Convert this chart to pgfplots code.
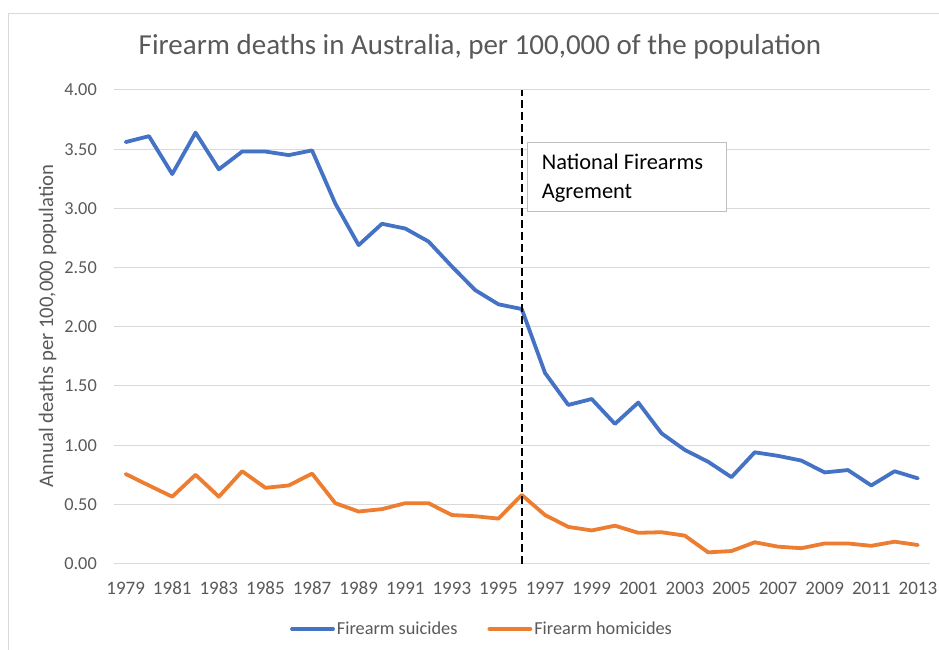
\documentclass[border=0pt]{standalone}
\usepackage{pgfplots}
\pgfplotsset{compat=1.18}
\usepackage{fontspec}
\setmainfont{Carlito}
\definecolor{txt}{RGB}{89,89,89}
\definecolor{grd}{RGB}{217,217,217}
\definecolor{boxc}{RGB}{191,191,191}
\definecolor{sblue}{RGB}{68,114,196}
\definecolor{sorange}{RGB}{237,125,49}
\pgfplotstableread{
year suicides homicides
1979 3.56 0.757
1980 3.61 0.66
1981 3.29 0.565
1982 3.64 0.75
1983 3.33 0.565
1984 3.48 0.78
1985 3.48 0.64
1986 3.45 0.66
1987 3.49 0.76
1988 3.04 0.51
1989 2.69 0.44
1990 2.87 0.46
1991 2.83 0.51
1992 2.72 0.51
1993 2.51 0.41
1994 2.31 0.40
1995 2.19 0.38
1996 2.15 0.58
1997 1.61 0.41
1998 1.34 0.31
1999 1.39 0.28
2000 1.18 0.32
2001 1.36 0.26
2002 1.10 0.265
2003 0.96 0.236
2004 0.86 0.095
2005 0.73 0.106
2006 0.94 0.18
2007 0.91 0.143
2008 0.87 0.13
2009 0.77 0.17
2010 0.79 0.17
2011 0.66 0.15
2012 0.78 0.185
2013 0.72 0.157
}\datatable
\begin{document}
\begin{tikzpicture}[x=1pt,y=1pt]
\useasboundingbox (0,0) rectangle (939,650);
\draw[grd, line width=1pt] (8.5,-20) -- (8.5,636.7) -- (960,636.7);
\begin{axis}[
  at={(114pt,86.4pt)}, anchor=south west,
  scale only axis, width=815.5pt, height=473.6pt,
  xmin=1978.5, xmax=2013.5, ymin=0, ymax=4,
  axis line style={draw=none},
  major tick length=0pt,
  xtick={1979,1981,...,2013},
  ytick={0,0.5,1,1.5,2,2.5,3,3.5,4},
  ymajorgrids, grid style={grd, line width=1pt},
  /pgf/number format/assume math mode=true,
  xticklabel style={/pgf/number format/set thousands separator={}, inner sep=0pt, text=txt, font=\fontsize{19}{23}\selectfont},
  yticklabel style={/pgf/number format/fixed, /pgf/number format/fixed zerofill, /pgf/number format/precision=2, inner sep=0pt, text=txt, font=\fontsize{18.3}{22}\selectfont},
  xticklabel shift=18pt,
  yticklabel shift=17pt,
  legend style={at={(0.4513,-0.1381)}, anchor=center, draw=none, fill=none, font=\fontsize{18.3}{22}\selectfont, text=txt, /tikz/every even column/.append style={column sep=28pt}},
  legend columns=2,
  legend image code/.code={\draw[#1, line width=3.8pt] (0pt,0pt) -- (41pt,0pt);},
]
\addplot[sblue, line width=3.8pt, line join=round, line cap=round] table[x=year, y=suicides] {\datatable};
\addlegendentry{Firearm suicides}
\addplot[sorange, line width=3.8pt, line join=round, line cap=round] table[x=year, y=homicides] {\datatable};
\addlegendentry{Firearm homicides}
\addplot[black, line width=2pt, dash pattern=on 8pt off 4pt, forget plot] coordinates {(1996,0) (1996,4)};
\end{axis}
\node[anchor=base, text=txt, font=\fontsize{29}{34}\selectfont] at (480,595) {Firearm deaths in Australia, per 100,000 of the population};
\node[rotate=90, text=txt, font=\fontsize{20.7}{24}\selectfont] at (47.5,324.2) {Annual deaths per 100,000 population};
\draw[boxc, fill=white, line width=1pt] (527,507.7) rectangle (726.7,438.3);
\node[anchor=base west, inner sep=0pt, font=\fontsize{22.4}{26}\selectfont] at (541.7,480) {National Firearms};
\node[anchor=base west, inner sep=0pt, font=\fontsize{22.4}{26}\selectfont] at (541.7,451.7) {Agrement};
\end{tikzpicture}
\end{document}
